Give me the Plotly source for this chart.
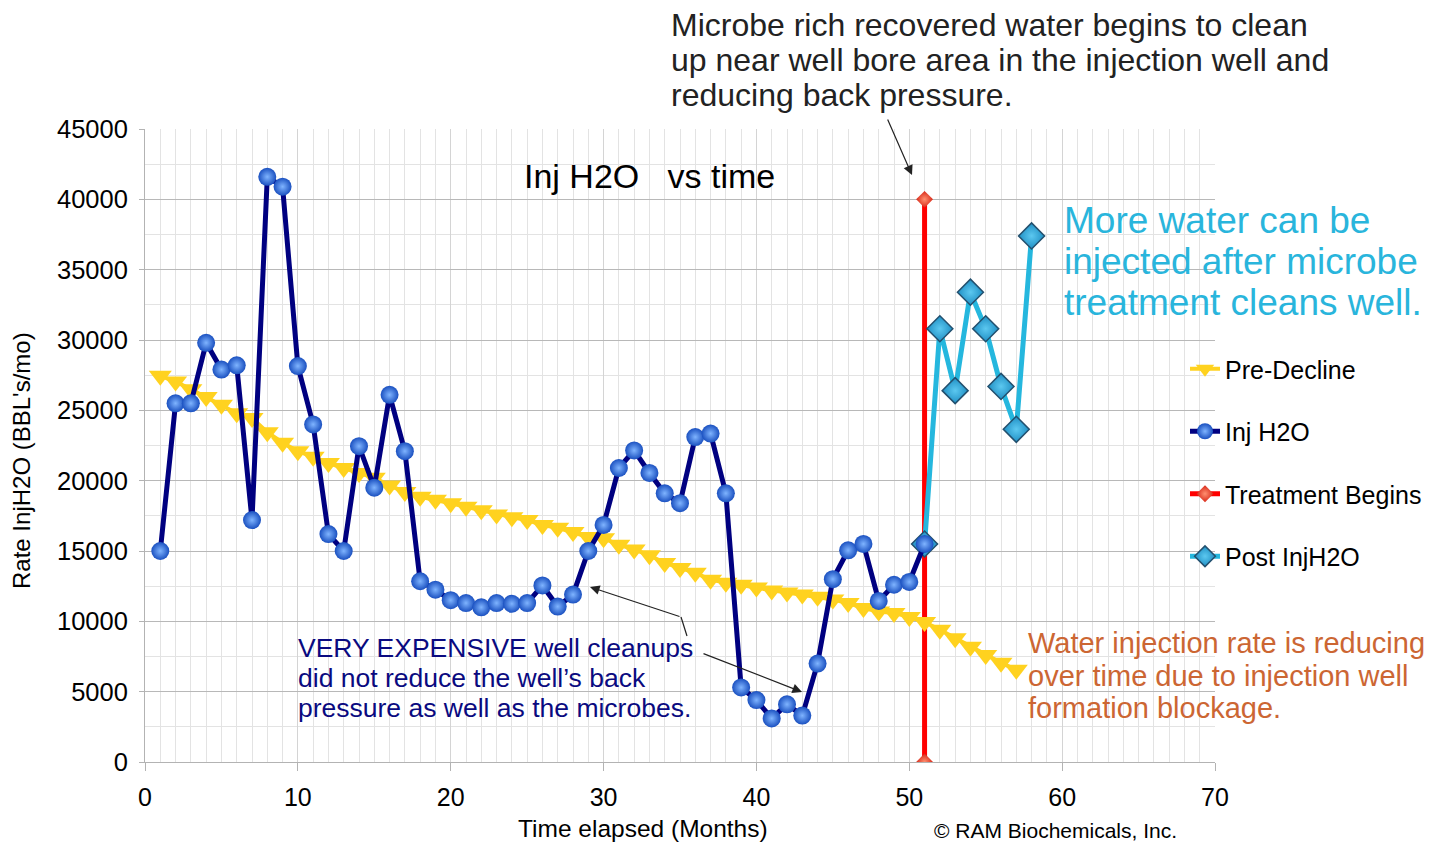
import plotly.graph_objects as go

# ---------------- data ----------------
months_inj = list(range(1, 52))
inj_h2o = [15000, 25500, 25500, 29800, 27900, 28200, 17200, 41600, 40900, 28150,
           24000, 16200, 15000, 22450, 19500, 26100, 22100, 12850, 12250, 11500,
           11300, 11000, 11300, 11250, 11300, 12550, 11050, 11900, 15000, 16850,
           20900, 22150, 20550, 19100, 18400, 23100, 23350, 19100, 5300, 4400,
           3100, 4100, 3300, 7000, 13000, 15050, 15500, 11450, 12600, 12800, 15500]

months_pre = list(range(1, 58))
pre_decline = [27450, 27050, 26500, 25950, 25400, 24800, 24450, 23450, 22700, 22100,
               21700, 21250, 20900, 20550, 20200, 19650, 19200, 18850, 18650, 18400,
               18150, 17900, 17600, 17400, 17200, 16850, 16650, 16350, 16000, 15900,
               15450, 15100, 14700, 14150, 13800, 13450, 12950, 12750, 12600, 12400,
               12200, 12050, 11900, 11750, 11550, 11300, 10950, 10700, 10600, 10300,
               9950, 9400, 8800, 8200, 7600, 7050, 6550]

months_post = [51, 52, 53, 54, 55, 56, 57, 58]
post_inj = [15500, 30800, 26400, 33400, 30800, 26700, 23650, 37400]

treat_x = [51, 51]
treat_y = [0, 40000]

x_ticks = [0, 10, 20, 30, 40, 50, 60, 70]
y_ticks = [0, 5000, 10000, 15000, 20000, 25000, 30000, 35000, 40000, 45000]

FONT = "Liberation Sans, Arial, sans-serif"

W, H = 1446, 842
L, R, T, B = 145, 231, 129, 80
PW, PH = W - L - R, H - T - B


def P(px, py):
    return (px - L) / PW, (H - B - py) / PH


fig = go.Figure()

fig.add_trace(go.Scatter(
    x=treat_x, y=treat_y, name="Treatment Begins", mode="lines+markers",
    line=dict(color="#ff0000", width=5),
    marker=dict(symbol="diamond", size=13, color="#d82818",
                gradient=dict(type="radial", color="#ff9070")),
    legendrank=3, legendgroup="c"))

fig.add_trace(go.Scatter(
    x=months_post, y=post_inj, name="Post InjH2O", mode="lines+markers",
    line=dict(color="#25b7de", width=5),
    marker=dict(symbol="diamond", size=20, color="#1f8fc4",
                gradient=dict(type="radial", color="#5cc8f0"),
                line=dict(color="#23506e", width=1.5)),
    legendrank=4, legendgroup="d"))

fig.add_trace(go.Scatter(
    x=months_pre, y=pre_decline, name="Pre-Decline", mode="lines+markers",
    line=dict(color="#ffd21f", width=4),
    marker=dict(symbol="triangle-down", size=20, color="#ffd21f"),
    legendrank=1, legendgroup="a"))

fig.add_trace(go.Scatter(
    x=months_inj, y=inj_h2o, name="Inj H2O", mode="lines+markers",
    line=dict(color="#000080", width=5),
    marker=dict(symbol="circle", size=18, color="#1a50c0",
                gradient=dict(type="radial", color="#7fb4ff"),
                line=dict(width=0)),
    legendrank=2, legendgroup="b"))

annotations = []


def add_line(text, px, py, size, color, xanchor="left", angle=0):
    x, y = P(px, py)
    annotations.append(dict(x=x, y=y, xref="paper", yref="paper", text=text,
                            showarrow=False, xanchor=xanchor, yanchor="middle",
                            textangle=angle,
                            font=dict(family=FONT, size=size, color=color)))


for t, yy in zip(["Microbe rich recovered water begins to clean",
                  "up near well bore area in the injection well and",
                  "reducing back pressure."], [25, 60, 95]):
    add_line(t, 669, yy, 32, "#222222")

for t, yy in zip(["More water can be", "injected after microbe",
                  "treatment cleans well."], [220, 261, 302]):
    add_line(t, 1062, yy, 37, "#29b5dc")

for t, yy in zip(["VERY EXPENSIVE well cleanups", "did not reduce the well\u2019s back",
                  "pressure as well as the microbes."], [648, 678, 708]):
    add_line(t, 296, yy, 26.5, "#0a0a80")

for t, yy in zip(["Water injection rate is reducing", "over time due to injection well",
                  "formation blockage."], [643, 676, 708]):
    add_line(t, 1026, yy, 29, "#cc6633")

add_line("Inj H2O\u00a0\u00a0\u00a0vs time", 522, 176, 34, "#000000")
add_line("\u00a9 RAM Biochemicals, Inc.", 1055, 831, 21, "#000000", xanchor="center")
# axis titles
add_line("Time elapsed (Months)", 643, 828, 24.5, "#000000", xanchor="center")
add_line("Rate InjH2O (BBL's/mo)", 22, 461, 24, "#000000", xanchor="center", angle=-90)


# arrows
def px2data(px, py):
    return (px - L) / PW * 70, (H - B - py) / PH * 45000


for tip, tail in [((912, 175), (887, 118)),
                  ((590, 587), (681, 617)),
                  ((802, 692), (702, 653))]:
    dx, dy = px2data(*tip)
    annotations.append(dict(x=dx, y=dy, xref="x", yref="y", ax=tail[0] - tip[0],
                            ay=tail[1] - tip[1], showarrow=True, arrowhead=2,
                            arrowsize=1.6, arrowwidth=1.2, arrowcolor="#222222",
                            text=""))

bx0, by0 = px2data(687, 636)
bx1, by1 = px2data(681, 617)

fig.update_layout(
    width=W, height=H,
    margin=dict(l=L, r=R, t=T, b=B),
    paper_bgcolor="white", plot_bgcolor="white",
    font=dict(family=FONT, color="#000000"),
    annotations=annotations,
    shapes=[dict(type="line", xref="x", yref="y", x0=bx0, y0=by0, x1=bx1, y1=by1,
                 line=dict(color="#222222", width=1.2))],
    showlegend=True,
    legend=dict(x=P(1185, 0)[0], y=P(0, 346)[1], xanchor="left", yanchor="top",
                bgcolor="rgba(0,0,0,0)", font=dict(family=FONT, size=25),
                tracegroupgap=27, traceorder="grouped"),
    xaxis=dict(range=[0, 70], tickvals=x_ticks, ticks="outside", ticklen=8,
               tickcolor="#b3b3b3", showline=True, linecolor="#b3b3b3",
               gridcolor="#d4d4d4", zeroline=False, automargin=False,
               ticklabelstandoff=5,
               minor=dict(dtick=1, showgrid=True, gridcolor="#e3e3e3"),
               tickfont=dict(family=FONT, size=25)),
    yaxis=dict(range=[0, 45000], tickvals=y_ticks, tickformat="d", ticks="outside",
               ticklen=5, tickcolor="#b3b3b3", showline=True, linecolor="#b3b3b3",
               gridcolor="#b8b8b8", zeroline=False, automargin=False,
               ticklabelstandoff=6,
               minor=dict(dtick=2500, showgrid=True, gridcolor="#e3e3e3"),
               tickfont=dict(family=FONT, size=25.5)),
)

fig.write_html("out.html", config={"displayModeBar": False},
               post_script="document.body.style.margin='0';document.body.style.overflow='hidden';")
